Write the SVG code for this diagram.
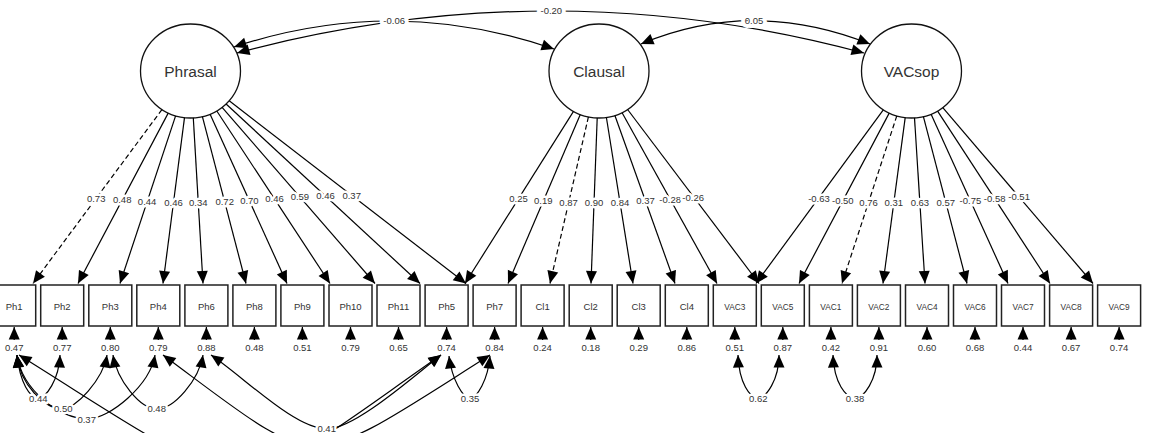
<svg xmlns="http://www.w3.org/2000/svg" width="1152" height="433" viewBox="0 0 1152 433">
<style>
.lat ellipse{fill:#fff;stroke:#111;stroke-width:1.3}
.lat text{font-family:"Liberation Sans",Arial,sans-serif;font-size:15.5px;fill:#333;text-anchor:middle}
.ov rect{fill:#fff;stroke:#222;stroke-width:1.5}
.ov text{font-family:"Liberation Sans",Arial,sans-serif;font-size:9.5px;fill:#333;text-anchor:middle}
.ov text.v{font-size:8.3px}
.e{fill:none;stroke:#000;stroke-width:1.2}
.d{stroke-dasharray:5 3}
.l{font-family:"Liberation Sans",Arial,sans-serif;font-size:9.5px;fill:#333;text-anchor:middle;stroke:#fff;stroke-width:5;stroke-linejoin:round;paint-order:stroke}
.lt{stroke-width:8}
.r{font-family:"Liberation Sans",Arial,sans-serif;font-size:9.5px;fill:#333;text-anchor:middle}
</style>
<defs>
<marker id="ah" viewBox="-13 -6 14 12" refX="0" refY="0" markerWidth="14" markerHeight="12" markerUnits="userSpaceOnUse" orient="auto-start-reverse"><path d="M0,0 L-12.5,-5.5 L-12.5,5.5 Z" fill="#000"/></marker>
</defs>
<rect width="1152" height="433" fill="#fff"/>
<g id="nodes">
<g id="Phrasal" class="lat"><ellipse cx="190.5" cy="71" rx="50" ry="47"/><text x="190.5" y="76.7">Phrasal</text></g>
<g id="Clausal" class="lat"><ellipse cx="599" cy="71" rx="50" ry="47"/><text x="599" y="76.7">Clausal</text></g>
<g id="VACsop" class="lat"><ellipse cx="911.5" cy="71" rx="50" ry="47"/><text x="911.5" y="76.7">VACsop</text></g>
<g id="Ph1" class="ov"><rect x="-7.3" y="285" width="43" height="41"/><text x="14.2" y="310.1">Ph1</text></g>
<g id="Ph2" class="ov"><rect x="40.7" y="285" width="43" height="41"/><text x="62.2" y="310.1">Ph2</text></g>
<g id="Ph3" class="ov"><rect x="88.8" y="285" width="43" height="41"/><text x="110.3" y="310.1">Ph3</text></g>
<g id="Ph4" class="ov"><rect x="136.8" y="285" width="43" height="41"/><text x="158.3" y="310.1">Ph4</text></g>
<g id="Ph6" class="ov"><rect x="184.9" y="285" width="43" height="41"/><text x="206.4" y="310.1">Ph6</text></g>
<g id="Ph8" class="ov"><rect x="232.9" y="285" width="43" height="41"/><text x="254.4" y="310.1">Ph8</text></g>
<g id="Ph9" class="ov"><rect x="280.9" y="285" width="43" height="41"/><text x="302.4" y="310.1">Ph9</text></g>
<g id="Ph10" class="ov"><rect x="329" y="285" width="43" height="41"/><text x="350.5" y="310.1">Ph10</text></g>
<g id="Ph11" class="ov"><rect x="377" y="285" width="43" height="41"/><text x="398.5" y="310.1">Ph11</text></g>
<g id="Ph5" class="ov"><rect x="425.1" y="285" width="43" height="41"/><text x="446.6" y="310.1">Ph5</text></g>
<g id="Ph7" class="ov"><rect x="473.1" y="285" width="43" height="41"/><text x="494.6" y="310.1">Ph7</text></g>
<g id="Cl1" class="ov"><rect x="521.1" y="285" width="43" height="41"/><text x="542.6" y="310.1">Cl1</text></g>
<g id="Cl2" class="ov"><rect x="569.2" y="285" width="43" height="41"/><text x="590.7" y="310.1">Cl2</text></g>
<g id="Cl3" class="ov"><rect x="617.2" y="285" width="43" height="41"/><text x="638.7" y="310.1">Cl3</text></g>
<g id="Cl4" class="ov"><rect x="665.3" y="285" width="43" height="41"/><text x="686.8" y="310.1">Cl4</text></g>
<g id="VAC3" class="ov"><rect x="713.3" y="285" width="43" height="41"/><text class="v" x="734.8" y="309.7">VAC3</text></g>
<g id="VAC5" class="ov"><rect x="761.3" y="285" width="43" height="41"/><text class="v" x="782.8" y="309.7">VAC5</text></g>
<g id="VAC1" class="ov"><rect x="809.4" y="285" width="43" height="41"/><text class="v" x="830.9" y="309.7">VAC1</text></g>
<g id="VAC2" class="ov"><rect x="857.4" y="285" width="43" height="41"/><text class="v" x="878.9" y="309.7">VAC2</text></g>
<g id="VAC4" class="ov"><rect x="905.5" y="285" width="43" height="41"/><text class="v" x="927" y="309.7">VAC4</text></g>
<g id="VAC6" class="ov"><rect x="953.5" y="285" width="43" height="41"/><text class="v" x="975" y="309.7">VAC6</text></g>
<g id="VAC7" class="ov"><rect x="1001.5" y="285" width="43" height="41"/><text class="v" x="1023" y="309.7">VAC7</text></g>
<g id="VAC8" class="ov"><rect x="1049.6" y="285" width="43" height="41"/><text class="v" x="1071.1" y="309.7">VAC8</text></g>
<g id="VAC9" class="ov"><rect x="1097.6" y="285" width="43" height="41"/><text class="v" x="1119.1" y="309.7">VAC9</text></g>
</g>
<g id="connectors">
<g id="loadings" class="e" marker-end="url(#ah)">
<line class="d" x1="161.9" y1="109.6" x2="33" y2="283.5"/>
<line x1="168.2" y1="113.1" x2="78" y2="283.5"/>
<line x1="175.6" y1="115.9" x2="120" y2="283.5"/>
<line x1="184.5" y1="117.7" x2="163" y2="283.5"/>
<line x1="193.3" y1="117.9" x2="203" y2="283.5"/>
<line x1="202.4" y1="116.6" x2="246" y2="283.5"/>
<line x1="210.1" y1="114.2" x2="287" y2="283.5"/>
<line x1="216.8" y1="111" x2="330" y2="283.5"/>
<line x1="222.1" y1="107.4" x2="375" y2="283.5"/>
<line x1="226.1" y1="104" x2="420" y2="283.5"/>
<line x1="229.2" y1="100.8" x2="466" y2="283.5"/>
<line x1="573.5" y1="111.4" x2="465" y2="283.5"/>
<line x1="580.3" y1="114.6" x2="508" y2="283.5"/>
<line class="d" x1="588.4" y1="116.9" x2="550" y2="283.5"/>
<line x1="597.2" y1="118" x2="591" y2="283.5"/>
<line x1="606.4" y1="117.5" x2="633" y2="283.5"/>
<line x1="614.9" y1="115.5" x2="675" y2="283.5"/>
<line x1="622.1" y1="112.7" x2="717" y2="283.5"/>
<line x1="627.6" y1="109.5" x2="759" y2="283.5"/>
<line x1="883.3" y1="109.8" x2="756" y2="283.5"/>
<line x1="889.2" y1="113.1" x2="799" y2="283.5"/>
<line class="d" x1="896.8" y1="115.9" x2="842" y2="283.5"/>
<line x1="905.2" y1="117.6" x2="883" y2="283.5"/>
<line x1="914.5" y1="117.9" x2="925" y2="283.5"/>
<line x1="923.4" y1="116.6" x2="967" y2="283.5"/>
<line x1="931.1" y1="114.2" x2="1008" y2="283.5"/>
<line x1="937.6" y1="111.1" x2="1050" y2="283.5"/>
<line x1="942.8" y1="107.7" x2="1093" y2="283.5"/>
</g>
<g id="residuals" class="e" marker-end="url(#ah)">
<line x1="14.2" y1="340" x2="14.2" y2="327"/>
<line x1="62.2" y1="340" x2="62.2" y2="327"/>
<line x1="110.3" y1="340" x2="110.3" y2="327"/>
<line x1="158.3" y1="340" x2="158.3" y2="327"/>
<line x1="206.4" y1="340" x2="206.4" y2="327"/>
<line x1="254.4" y1="340" x2="254.4" y2="327"/>
<line x1="302.4" y1="340" x2="302.4" y2="327"/>
<line x1="350.5" y1="340" x2="350.5" y2="327"/>
<line x1="398.5" y1="340" x2="398.5" y2="327"/>
<line x1="446.6" y1="340" x2="446.6" y2="327"/>
<line x1="494.6" y1="340" x2="494.6" y2="327"/>
<line x1="542.6" y1="340" x2="542.6" y2="327"/>
<line x1="590.7" y1="340" x2="590.7" y2="327"/>
<line x1="638.7" y1="340" x2="638.7" y2="327"/>
<line x1="686.8" y1="340" x2="686.8" y2="327"/>
<line x1="734.8" y1="340" x2="734.8" y2="327"/>
<line x1="782.8" y1="340" x2="782.8" y2="327"/>
<line x1="830.9" y1="340" x2="830.9" y2="327"/>
<line x1="878.9" y1="340" x2="878.9" y2="327"/>
<line x1="927" y1="340" x2="927" y2="327"/>
<line x1="975" y1="340" x2="975" y2="327"/>
<line x1="1023" y1="340" x2="1023" y2="327"/>
<line x1="1071.1" y1="340" x2="1071.1" y2="327"/>
<line x1="1119.1" y1="340" x2="1119.1" y2="327"/>
</g>
<g id="resid-labels" class="r">
<text x="14.2" y="351.1">0.47</text><text x="62.2" y="351.1">0.77</text><text x="110.3" y="351.1">0.80</text><text x="158.3" y="351.1">0.79</text><text x="206.4" y="351.1">0.88</text><text x="254.4" y="351.1">0.48</text><text x="302.4" y="351.1">0.51</text><text x="350.5" y="351.1">0.79</text><text x="398.5" y="351.1">0.65</text><text x="446.6" y="351.1">0.74</text><text x="494.6" y="351.1">0.84</text><text x="542.6" y="351.1">0.24</text><text x="590.7" y="351.1">0.18</text><text x="638.7" y="351.1">0.29</text><text x="686.8" y="351.1">0.86</text><text x="734.8" y="351.1">0.51</text><text x="782.8" y="351.1">0.87</text><text x="830.9" y="351.1">0.42</text><text x="878.9" y="351.1">0.91</text><text x="927" y="351.1">0.60</text><text x="975" y="351.1">0.68</text><text x="1023" y="351.1">0.44</text><text x="1071.1" y="351.1">0.67</text><text x="1119.1" y="351.1">0.74</text>
</g>
<g id="covariances" class="e" marker-start="url(#ah)" marker-end="url(#ah)">
<path d="M234,47 Q394,-6 554,49"/>
<path d="M237,53 Q551.5,-31 864,53"/>
<path d="M641,44 Q752.5,-2.6 870,44"/>
<path d="M17,355 C20,383 30,398 38,398 C46,398 59,380 60,355"/>
<path d="M17,355 C20,385 45,409 63,409 C75,409 103,380 107,355"/>
<path d="M17,355 C22,390 60,419 87,419 C110,419 150,385 155,355"/>
<path d="M113,355 C117,380 140,409 157,409 C174,409 199,380 203,355"/>
<path d="M211,355 C245,378 295,429 327,429 C355,429 415,375 441,355"/>
<path d="M19,355 C264,508 222,508 441,355"/>
<path d="M163,355 C325,475 300,475 490,355"/>
<path d="M449,356 C452,380 463,398 470,398 C477,398 488,380 490,356"/>
<path d="M738,355 C739,383 750,398 758,398 C766,398 779,380 779,355"/>
<path d="M833,355 C834,383 846,398 855,398 C864,398 877,380 877,355"/>
</g>
<g id="edge-labels" class="l">
<text x="96.2" y="201.7">0.73</text>
<text x="122.2" y="203.4">0.48</text>
<text x="147.1" y="205.1">0.44</text>
<text x="173.5" y="206.1">0.46</text>
<text x="198.3" y="206.1">0.34</text>
<text x="224.7" y="205.4">0.72</text>
<text x="249.4" y="204.1">0.70</text>
<text x="274.5" y="202.4">0.46</text>
<text x="299.9" y="200.4">0.59</text>
<text x="325.5" y="199.4">0.46</text>
<text x="351.7" y="198.7">0.37</text>
<text x="518.5" y="202.1">0.25</text>
<text x="543.3" y="204.4">0.19</text>
<text x="568.6" y="206.1">0.87</text>
<text x="594" y="206.4">0.90</text>
<text x="620" y="205.7">0.84</text>
<text x="645.5" y="204.4">0.37</text>
<text x="670.2" y="202.7">-0.28</text>
<text x="693.2" y="201.1">-0.26</text>
<text x="819" y="201.7">-0.63</text>
<text x="842.8" y="204.1">-0.50</text>
<text x="868.6" y="205.7">0.76</text>
<text x="893.8" y="206.1">0.31</text>
<text x="919.9" y="206.1">0.63</text>
<text x="945.8" y="205.7">0.57</text>
<text x="970.4" y="204.1">-0.75</text>
<text x="994.7" y="202.1">-0.58</text>
<text x="1019.1" y="200.4">-0.51</text>
<text class="lt" x="394.2" y="24.1">-0.06</text>
<text class="lt" x="551.3" y="14.4">-0.20</text>
<text class="lt" x="754" y="24.1">0.05</text>
<text x="38.3" y="401.7">0.44</text>
<text x="63.3" y="412.4">0.50</text>
<text x="86.7" y="422.7">0.37</text>
<text x="156.7" y="412.4">0.48</text>
<text x="326.7" y="432.4">0.41</text>
<text x="470" y="401.7">0.35</text>
<text x="758.3" y="401.7">0.62</text>
<text x="855" y="401.7">0.38</text>
</g>
</g>
</svg>
